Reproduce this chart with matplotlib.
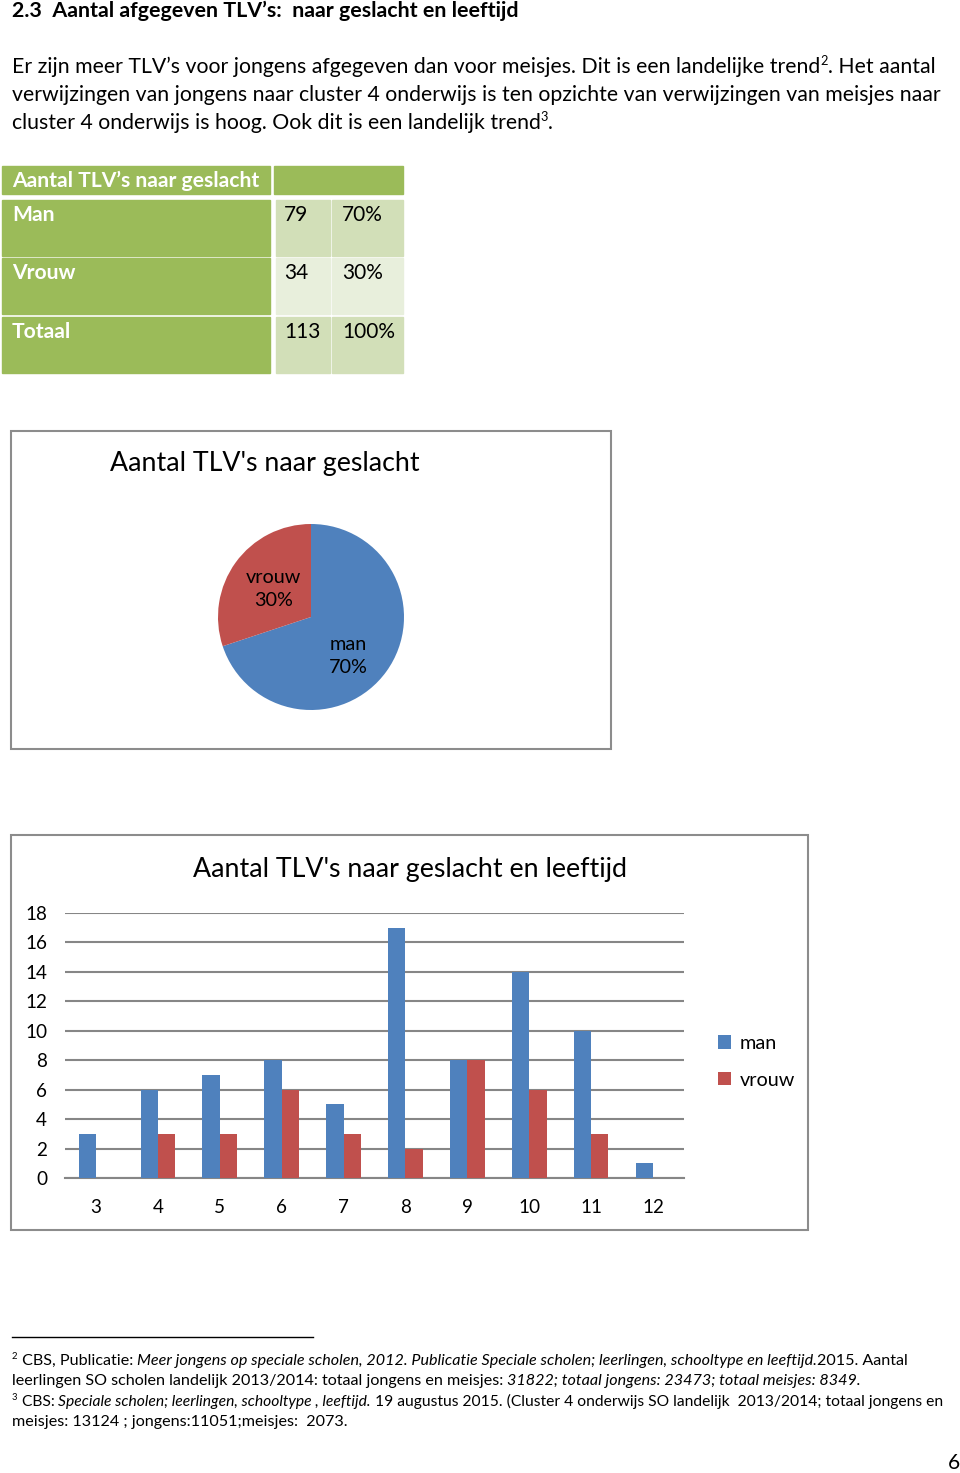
import matplotlib
matplotlib.use('Agg')
import matplotlib.pyplot as plt
from matplotlib.patches import Rectangle
import numpy as np

# data
geslacht = ['Man', 'Vrouw', 'Totaal']
aantal = [79, 34, 113]
percentage = ['70%', '30%', '100%']

pie_labels = ['man', 'vrouw']
pie_values = [79, 34]

leeftijd = [3, 4, 5, 6, 7, 8, 9, 10, 11, 12]
man = [3, 6, 7, 8, 5, 17, 8, 14, 10, 1]
vrouw = [0, 3, 3, 6, 3, 2, 8, 6, 3, 0]

BLUE = '#4F81BD'
RED = '#C0504D'
GREEN = '#9BBB59'
W, H = 960, 1473

plt.rcParams['font.family'] = ['Lato', 'DejaVu Sans']

fig = plt.figure(figsize=(W / 100, H / 100), dpi=100)
page = fig.add_axes([0, 0, 1, 1])
page.set_xlim(0, W)
page.set_ylim(H, 0)
page.axis('off')
r = fig.canvas.get_renderer()


def text_w(s, **kw):
    t = page.text(0, 0, '|' + s + '|', **kw)
    w1 = t.get_window_extent(r).width
    t.remove()
    t = page.text(0, 0, '||', **kw)
    w2 = t.get_window_extent(r).width
    t.remove()
    return w1 - w2


def part_kw(kind, size):
    kw = dict(fontsize=size, color='black')
    if kind == 'i':
        kw['style'] = 'italic'
    if kind == 'sup':
        kw['fontsize'] = size * 0.6
    return kw


def put_line(x, y, parts, size, right=None):
    # shrink the line a bit if it would run past `right`
    if right is not None:
        total = sum(text_w(s, **part_kw(k, size)) for s, k in parts)
        if x + total > right:
            size = size * (right - x) / total
    for s, kind in parts:
        kw = part_kw(kind, size)
        yy = y - size * 0.55 if kind == 'sup' else y
        page.text(x, yy, s, va='baseline', ha='left', **kw)
        x += text_w(s, **kw)


# heading + paragraph
page.text(12, 17, '2.3  Aantal afgegeven TLV’s:  naar geslacht en leeftijd',
          fontsize=15.4, fontweight='bold', va='baseline')
PS = 15.3
put_line(12, 73, [('Er zijn meer TLV’s voor jongens afgegeven dan voor meisjes. Dit is een landelijke trend', 'n'),
                  ('2', 'sup'), ('. Het aantal', 'n')], PS)
put_line(12, 101, [('verwijzingen van jongens naar cluster 4 onderwijs is ten opzichte van verwijzingen van meisjes naar', 'n')], PS)
put_line(12, 129, [('cluster 4 onderwijs is hoog. Ook dit is een landelijk trend', 'n'), ('3', 'sup'), ('.', 'n')], PS)

# table
page.add_patch(Rectangle((2, 166), 268, 28, color=GREEN))
page.add_patch(Rectangle((274, 166), 129, 28, color=GREEN))
page.text(12, 181, 'Aantal TLV’s naar geslacht', color='white', fontsize=15.2,
          fontweight='bold', va='center')
row_top = [200, 258, 317]
row_col = ['#D2DFB8', '#E8EFDC', '#D2DFB8']
for i, g in enumerate(geslacht):
    y0 = row_top[i]
    page.add_patch(Rectangle((2, y0), 268, 56, color=GREEN))
    page.add_patch(Rectangle((276, y0), 54, 56, color=row_col[i]))
    page.add_patch(Rectangle((332, y0), 71, 56, color=row_col[i]))
    page.text(12, y0 + 15, g, color='white', fontsize=15.2, fontweight='bold', va='center')
    page.text(284, y0 + 15, str(aantal[i]), color='black', fontsize=15, va='center')
    page.text(342, y0 + 15, percentage[i], color='black', fontsize=15, va='center')

# pie box
page.add_patch(Rectangle((11, 431), 600, 318, fill=False, ec='#8C8C8C', lw=1.5))
page.text(265, 463, "Aantal TLV's naar geslacht", fontsize=19.3, ha='center', va='center')
pax = fig.add_axes([(311 - 93) / W, 1 - (617 + 93) / H, 186 / W, 186 / H])
tot = sum(pie_values)
lbls = [f'{n}\n{v / tot * 100:.0f}%' for n, v in zip(pie_labels, pie_values)]
wedges, texts = pax.pie(pie_values, labels=lbls, colors=[BLUE, RED], startangle=90,
                        counterclock=False, labeldistance=0.55,
                        textprops=dict(fontsize=14.3, ha='center', va='center', linespacing=1.45))
# Excel puts the labels a bit off the wedge middle
texts[0].set_position((0.40, -0.42))
texts[1].set_position((-0.40, 0.30))
pax.set_xlim(-1, 1)
pax.set_ylim(-1, 1)

# bar box
page.add_patch(Rectangle((11, 835), 797, 395, fill=False, ec='#8C8C8C', lw=1.5))
page.text(410, 870, "Aantal TLV's naar geslacht en leeftijd", fontsize=19.3, ha='center', va='center')
ax = fig.add_axes([65 / W, 1 - 1178 / H, (684 - 65) / W, (1178 - 913) / H])
x = np.arange(len(leeftijd))
bw = 0.28
ax.bar(x - bw / 2, man, bw, color=BLUE, label='man', zorder=3)
ax.bar(x + bw / 2, vrouw, bw, color=RED, label='vrouw', zorder=3)
ax.set_xlim(-0.5, len(leeftijd) - 0.5)
ax.set_ylim(0, 18)
ax.set_yticks(range(0, 19, 2))
ax.set_xticks(x)
ax.set_xticklabels([str(a) for a in leeftijd])
ax.grid(axis='y', color='#868686', lw=1.5, zorder=0)
for s in ['top', 'right', 'left']:
    ax.spines[s].set_visible(False)
ax.spines['bottom'].set_color('#868686')
ax.spines['bottom'].set_linewidth(1.5)
ax.tick_params(axis='both', length=0, labelsize=13.6)
ax.tick_params(axis='x', pad=15)
ax.tick_params(axis='y', pad=13)
ax.legend(loc='upper left', bbox_to_anchor=(700 / W, 1 - 1017 / H), bbox_transform=fig.transFigure,
          frameon=False, fontsize=14.3, handlelength=0.65, handleheight=0.65, handletextpad=0.45,
          labelspacing=1.0)

# footnotes
page.plot([12, 313], [1337, 1337], color='black', lw=1)
FS = 11.6
put_line(12, 1365, [('2', 'sup'), (' CBS, Publicatie: ', 'n'),
                    ('Meer jongens op speciale scholen, 2012. Publicatie Speciale scholen; leerlingen, schooltype en leeftijd.', 'i'),
                    ('2015. Aantal', 'n')], FS, right=944)
put_line(12, 1385, [('leerlingen SO scholen landelijk 2013/2014: totaal jongens en meisjes: ', 'n'),
                    ('31822; totaal jongens: 23473; totaal meisjes: 8349.', 'i')], FS, right=944)
put_line(12, 1406, [('3', 'sup'), (' CBS: ', 'n'), ('Speciale scholen; leerlingen, schooltype , leeftijd.', 'i'),
                    (' 19 augustus 2015. (Cluster 4 onderwijs SO landelijk  2013/2014; totaal jongens en', 'n')],
         FS, right=944)
put_line(12, 1426, [('meisjes: 13124 ; jongens:11051;meisjes:  2073.', 'n')], FS, right=944)
page.text(960, 1469, '6', fontsize=15, ha='right', va='baseline')

fig.savefig('out.png', dpi=100)
